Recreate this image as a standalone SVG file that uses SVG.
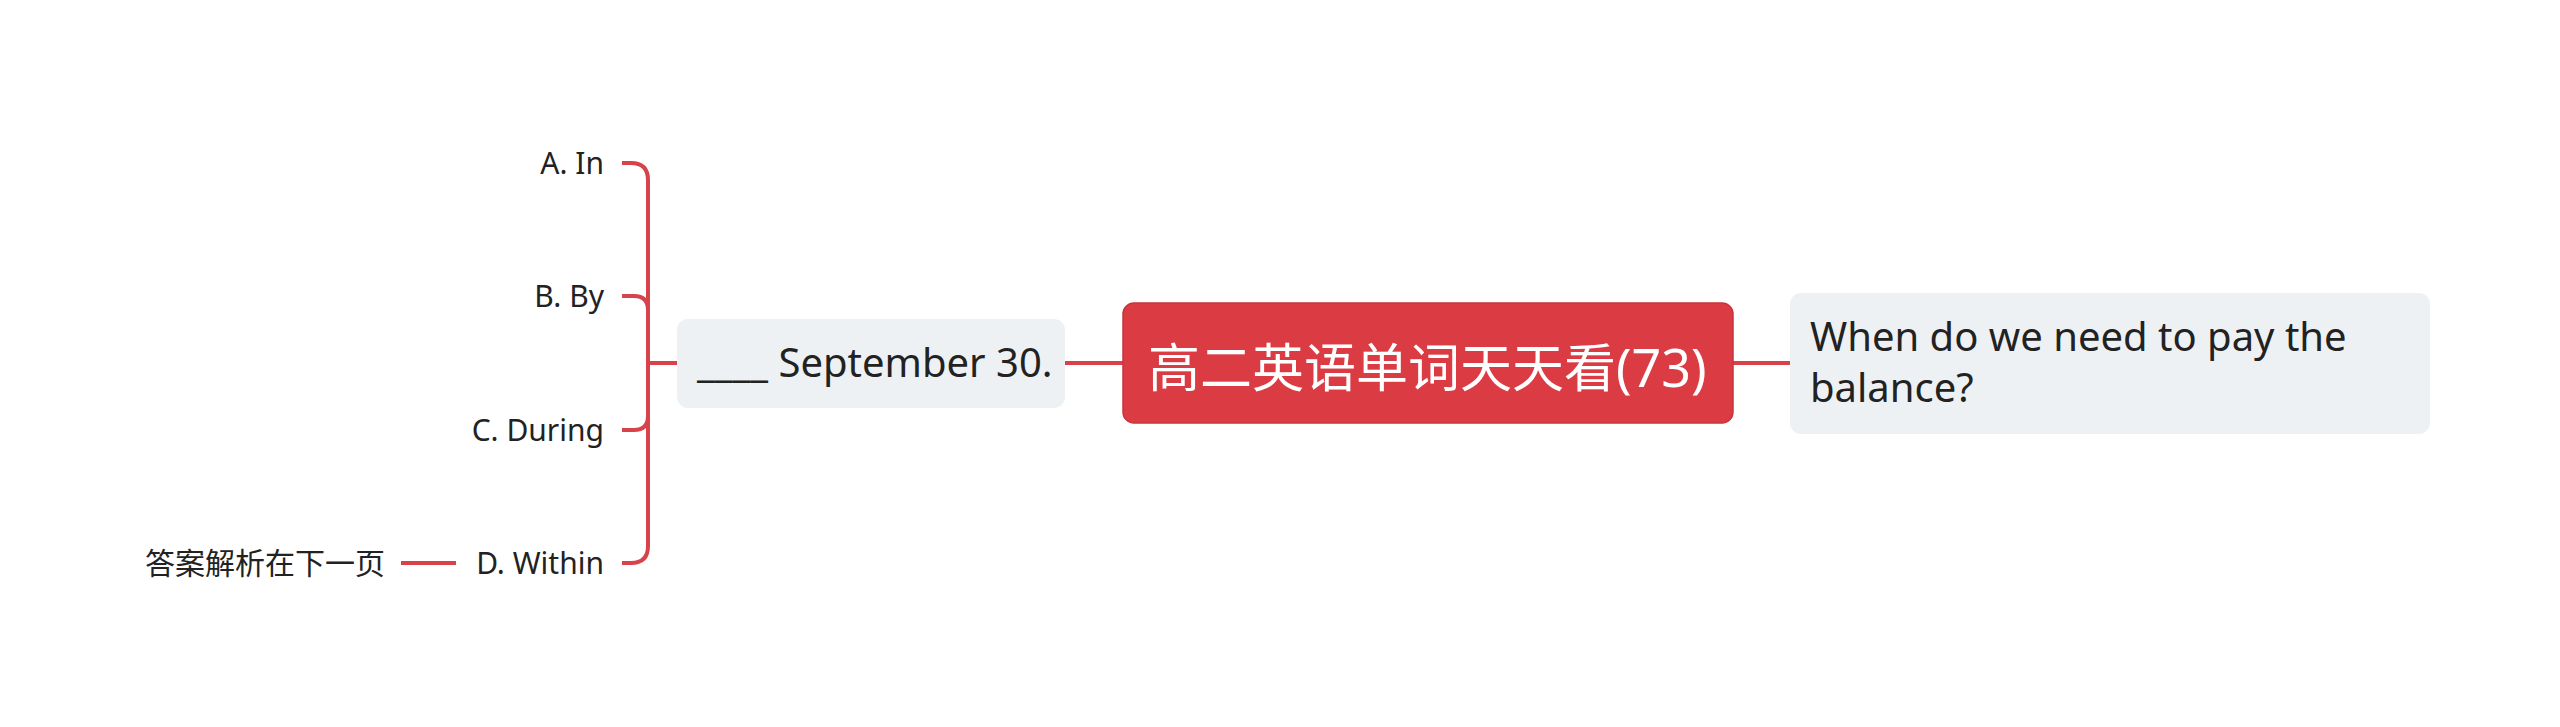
<svg xmlns="http://www.w3.org/2000/svg" width="2560" height="727" viewBox="0 0 2560 727">
<style>
.conn{fill:none;stroke:#d8434b;stroke-width:4;stroke-linecap:butt}
.t{font-family:"Noto Sans","Noto Sans CJK SC",sans-serif;fill:#222222}
.lbl{font-size:30px;text-anchor:end}
.sub{fill:#eef1f4}
.root{fill:#db3c44;stroke:#c9343c;stroke-width:1.5}
.rt{font-family:"Noto Sans","Noto Sans CJK SC",sans-serif;font-size:52px;fill:#ffffff}
</style>
<rect width="2560" height="727" fill="#ffffff"/>
<g id="connectors">
<path class="conn" d="M1733,363 H1790"/>
<path class="conn" d="M1065,363 H1123"/>
<path class="conn" d="M648,363 H677"/>
<path class="conn" d="M622,163 H631 Q648,163 648,180 V546 Q648,563 631,563 H622"/>
<path class="conn" d="M622,296 H634 Q648,296 648,310"/>
<path class="conn" d="M622,430 H634 Q648,430 648,416"/>
<path class="conn" d="M401,563 H456"/>
</g>
<g id="root">
<rect class="root" x="1123" y="303" width="610" height="120" rx="11"/>
<text class="rt" x="1148" y="387">高二英语单词天天看(73)</text>
</g>
<g id="question">
<rect class="sub" x="1790" y="293" width="640" height="141" rx="11"/>
<text class="t" font-size="40" x="1810" y="351">When do we need to pay the</text>
<text class="t" font-size="40" x="1810" y="402">balance?</text>
</g>
<g id="stem">
<rect class="sub" x="677" y="319" width="388" height="89" rx="11"/>
<text class="t" font-size="40" x="697" y="377">____ September 30.</text>
</g>
<g id="optA"><text class="t lbl" x="604" y="174">A. In</text></g>
<g id="optB"><text class="t lbl" x="604" y="307">B. By</text></g>
<g id="optC"><text class="t lbl" x="604" y="441">C. During</text></g>
<g id="optD"><text class="t lbl" x="604" y="574">D. Within</text></g>
<g id="answer"><text class="t lbl" x="385" y="574">答案解析在下一页</text></g>
</svg>
